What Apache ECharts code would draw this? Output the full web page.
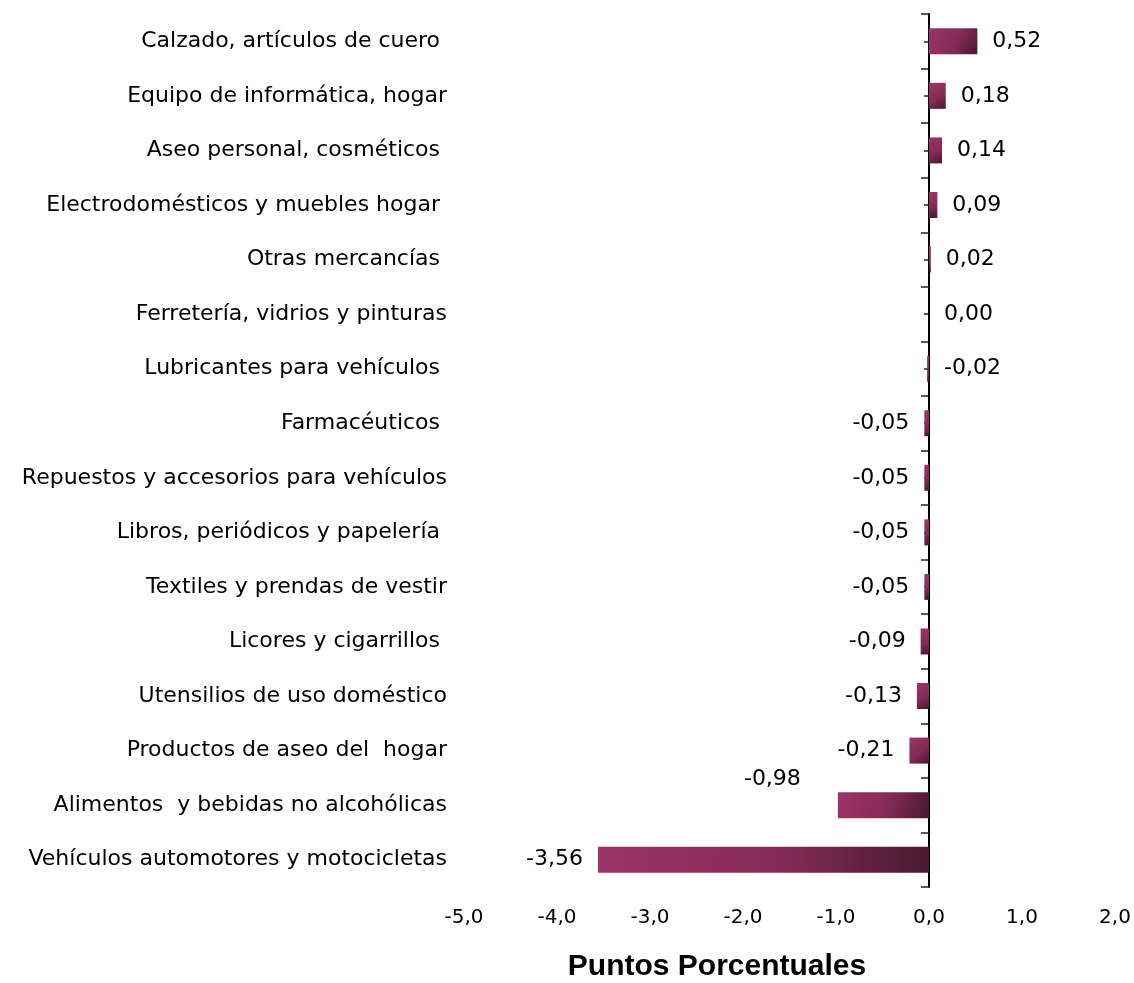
<!DOCTYPE html>
<html>
<head>
<meta charset="utf-8">
<script src="https://cdn.jsdelivr.net/npm/echarts@6/dist/echarts.min.js"></script>
<style>
  html, body { margin: 0; padding: 0; background: #ffffff; }
  #chart { width: 1134px; height: 983px; }
</style>
</head>
<body>
<div id="chart"></div>
<script>
// ---- data ----
const categories = [
  'Calzado, artículos de cuero ',
  'Equipo de informática, hogar',
  'Aseo personal, cosméticos ',
  'Electrodomésticos y muebles hogar ',
  'Otras mercancías ',
  'Ferretería, vidrios y pinturas',
  'Lubricantes para vehículos ',
  'Farmacéuticos ',
  'Repuestos y accesorios para vehículos',
  'Libros, periódicos y papelería ',
  'Textiles y prendas de vestir',
  'Licores y cigarrillos ',
  'Utensilios de uso doméstico',
  'Productos de aseo del  hogar',
  'Alimentos  y bebidas no alcohólicas',
  'Vehículos automotores y motocicletas'
];
const values = [0.52, 0.18, 0.14, 0.09, 0.02, 0.00, -0.02, -0.05, -0.05, -0.05, -0.05, -0.09, -0.13, -0.21, -0.98, -3.56];
const xTicks = { min: -5, max: 2, interval: 1 };
const axisTitle = 'Puntos Porcentuales';

// ---- style ----
const FONT = 'DejaVu Sans';
const fmt = v => v.toFixed(2).replace('.', ',');
const barGradient = new echarts.graphic.LinearGradient(0, 0, 1, 1, [
  { offset: 0, color: '#9c3468' },
  { offset: 0.55, color: '#852b57' },
  { offset: 1, color: '#471930' }
]);
// label placement tweaks (styling only)
const labelTweaks = { 14: { offset: [-22, -26] } };

const seriesData = values.map((v, i) => {
  const side = v > -0.03 ? 'right' : 'left';
  const lab = { position: side, distance: 15 };
  if (labelTweaks[i]) Object.assign(lab, labelTweaks[i]);
  return { value: v, label: lab };
});

const chart = echarts.init(document.getElementById('chart'), null, { renderer: 'canvas' });
chart.setOption({
  backgroundColor: '#ffffff',
  animation: false,
  grid: { left: 464, right: 19, top: 14, bottom: 96, containLabel: false },
  xAxis: {
    type: 'value',
    min: xTicks.min, max: xTicks.max, interval: xTicks.interval,
    axisLine: { show: false },
    axisTick: { show: false },
    splitLine: { show: false },
    axisLabel: {
      margin: 21,
      color: '#000',
      fontFamily: FONT,
      fontSize: 20,
      formatter: v => v.toFixed(1).replace('.', ',')
    }
  },
  yAxis: [
    {
      type: 'category',
      data: categories,
      inverse: true,
      axisLine: { show: false, onZero: false },
      axisTick: { show: false },
      axisLabel: { color: '#000', fontFamily: FONT, fontSize: 22, margin: 17 }
    },
    {
      type: 'category',
      data: categories,
      inverse: true,
      axisLine: { show: true, onZero: true, onZeroAxisIndex: 0, lineStyle: { color: '#000', width: 2 } },
      axisTick: { show: true, inside: true, length: 8, lineStyle: { color: '#222', width: 1.5 } },
      axisLabel: { show: false }
    },
    {
      type: 'category',
      data: categories,
      inverse: true,
      axisLine: { show: false, onZero: true, onZeroAxisIndex: 0 },
      axisTick: { show: true, inside: true, alignWithLabel: true, length: 5, lineStyle: { color: '#222', width: 1.5 } },
      axisLabel: { show: false }
    }
  ],
  series: [{
    type: 'bar',
    yAxisIndex: 0,
    barWidth: 26,
    data: seriesData,
    itemStyle: { color: barGradient },
    label: {
      show: true,
      color: '#000',
      fontFamily: FONT,
      fontSize: 22,
      formatter: p => fmt(p.value)
    }
  }],
  graphic: [{
    type: 'text',
    x: 717,
    y: 967,
    style: {
      text: axisTitle,
      fill: '#000',
      font: 'bold 30px "Liberation Sans"',
      align: 'center',
      verticalAlign: 'middle'
    }
  }]
});
</script>
</body>
</html>
